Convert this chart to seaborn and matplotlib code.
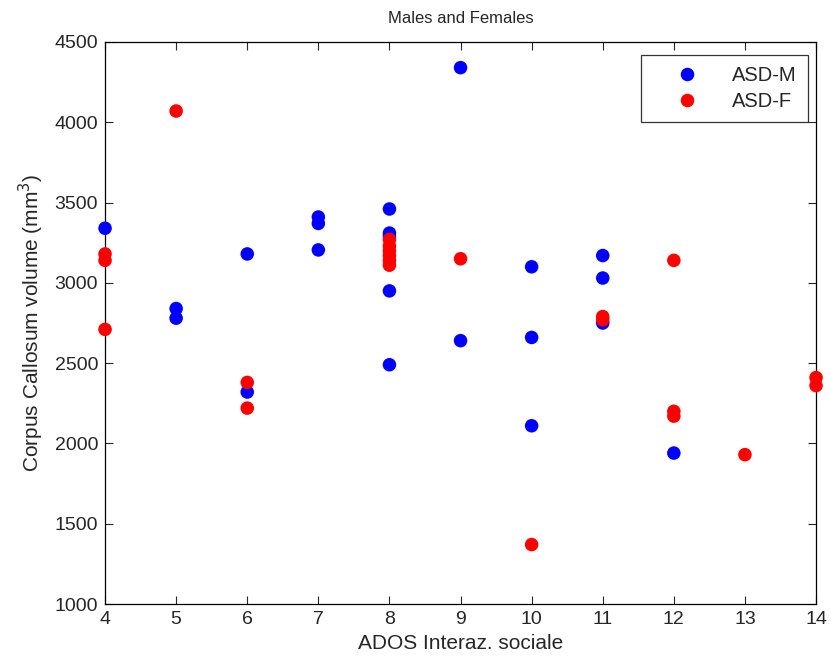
import pandas as pd
import matplotlib
matplotlib.use("Agg")
import matplotlib.pyplot as plt
import seaborn as sns

# values
male_ados = [4, 5, 5, 6, 6, 7, 7, 7, 8, 8, 8, 8, 8, 9, 9, 10, 10, 10, 11, 11, 11, 12]
male_cc = [3340, 2840, 2780, 3180, 2320, 3410, 3370, 3205, 3460, 3310, 3290, 2950, 2490,
           4340, 2640, 3100, 2660, 2110, 3170, 3030, 2750, 1940]

female_ados = [4, 4, 4, 5, 6, 6, 8, 8, 8, 8, 8, 8, 9, 10, 11, 11, 12, 12, 12, 13, 14, 14]
female_cc = [3180, 3140, 2710, 4070, 2380, 2220, 3270, 3230, 3200, 3170, 3140, 3110,
             3150, 1370, 2790, 2770, 3140, 2200, 2170, 1930, 2410, 2360]

df = pd.DataFrame({
    "ados": male_ados + female_ados,
    "cc": male_cc + female_cc,
    "group": ["ASD-M"] * len(male_ados) + ["ASD-F"] * len(female_ados),
})

sns.set_style("ticks")
plt.rcParams["font.family"] = ["Liberation Sans", "DejaVu Sans"]

fig = plt.figure(figsize=(8.31, 6.62), dpi=100)
ax = fig.add_axes([0.1264, 0.0876, 0.8556, 0.849])

sns.scatterplot(data=df, x="ados", y="cc", hue="group",
                palette={"ASD-M": "#0000ff", "ASD-F": "#ff0000"},
                s=95, edgecolor="none", ax=ax, clip_on=False, zorder=3)

ax.set_xlim(4, 14)
ax.set_ylim(1000, 4500)
ax.set_xticks(range(4, 15))
ax.set_yticks(range(1000, 4501, 500))
ax.tick_params(direction="in", top=True, right=True, labelsize=14, length=6, width=0.8, pad=5)
for sp in ax.spines.values():
    sp.set_visible(True)
    sp.set_color("black")
    sp.set_linewidth(0.9)

ax.set_xlabel("ADOS Interaz. sociale", fontsize=15, labelpad=4)
ax.set_ylabel("Corpus Callosum volume (mm$^3$)", fontsize=15, labelpad=6)
ax.set_title("Males and Females", fontsize=12, pad=14)

leg = ax.legend(loc="upper right", bbox_to_anchor=(0.9887, 0.9769), borderaxespad=0,
                fontsize=14.5, frameon=True, fancybox=False, edgecolor="black",
                borderpad=0.55, labelspacing=0.35, handletextpad=0.5, handlelength=3.5)
leg.get_frame().set_linewidth(0.9)

fig.savefig("out.png", dpi=100)
